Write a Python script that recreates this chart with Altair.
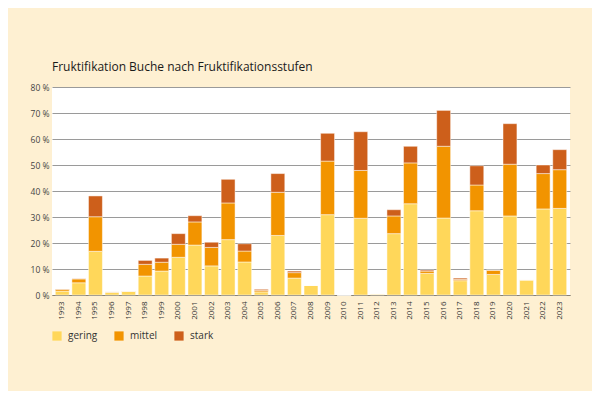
import altair as alt
import pandas as pd

years = [str(y) for y in range(1993, 2024)]
gering = [1.5, 4.7, 16.8, 1.0, 1.4, 7.3, 9.2, 14.5, 19.2, 11.2, 21.3,
          12.7, 1.2, 22.9, 6.5, 3.7, 30.9, 0.0, 29.5, 0.4, 23.6, 35.1, 8.3,
          29.6, 5.5, 32.4, 7.9, 30.4, 5.8, 33.1, 33.3]
mittel = [0.7, 1.5, 13.3, 0.2, 0.1, 4.5, 3.4, 5.0, 8.9, 7.1, 14.1,
          4.2, 0.6, 16.6, 2.1, 0.0, 20.6, 0.0, 18.4, 0.0, 6.8, 15.7, 0.9,
          27.6, 0.5, 9.9, 1.6, 19.9, 0.0, 13.6, 14.9]
stark = [0.1, 0.1, 8.0, 0.0, 0.0, 1.5, 1.6, 4.1, 2.4, 2.0, 9.1,
         2.8, 0.4, 7.2, 0.6, 0.0, 10.7, 0.0, 14.9, 0.0, 2.4, 6.4, 0.4,
         13.8, 0.5, 7.4, 0.1, 15.6, 0.0, 3.3, 7.7]
stufen = ["gering", "mittel", "stark"]
farben = ["#FFD75A", "#F29400", "#CD5F1B"]
y_ticks = [0, 10, 20, 30, 40, 50, 60, 70, 80]

rows = []
for i, y in enumerate(years):
    for k, (name, vals) in enumerate(zip(stufen, [gering, mittel, stark])):
        rows.append({"Jahr": y, "Stufe": name, "Wert": vals[i], "ord": k})
df = pd.DataFrame(rows)

bg = "#FEF0D2"

chart = alt.Chart(df).mark_bar(stroke="#ffffff", strokeWidth=0.6, strokeOpacity=0.8).encode(
    x=alt.X("Jahr:N", sort=years,
            scale=alt.Scale(paddingInner=0.16, paddingOuter=0.2),
            axis=alt.Axis(title=None, labelAngle=270, labelFontSize=8,
                          labelColor="#333333", labelPadding=6, ticks=False,
                          domainColor="#8a8270", domainWidth=1,
                          labelFont="Open Sans")),
    y=alt.Y("Wert:Q", stack="zero",
            scale=alt.Scale(domain=[0, 80], nice=False),
            axis=alt.Axis(title=None, values=y_ticks,
                          labelExpr="datum.value + ' %'",
                          labelFontSize=8.5, labelColor="#444444",
                          labelPadding=3, ticks=False, domain=False,
                          gridColor="#9a9a9a", gridWidth=1,
                          labelFont="Open Sans")),
    color=alt.Color("Stufe:N", sort=stufen,
                    scale=alt.Scale(domain=stufen, range=farben),
                    legend=alt.Legend(title=None, orient="none", legendX=0,
                                      legendY=244, direction="horizontal",
                                      symbolType="square", symbolSize=85,
                                      symbolStrokeWidth=0, labelFontSize=10,
                                      labelColor="#333333", labelFont="Open Sans",
                                      columnPadding=16, labelOffset=6)),
    order=alt.Order("ord:Q", sort="ascending"),
).properties(
    width=518, height=208,
    padding={"left": 44, "top": 79, "right": 22, "bottom": 96},
    autosize=alt.AutoSizeParams(type="none"),
    background=bg,
    title=alt.TitleParams(text="Fruktifikation Buche nach Fruktifikationsstufen",
                          anchor="start", frame="group", fontSize=12,
                          font="Open Sans", fontWeight=500, color="#1a1a1a",
                          offset=9, dx=0),
).configure_view(fill="#ffffff", stroke=None)

chart.save("out.html", embed_options={"renderer": "svg", "actions": False})
